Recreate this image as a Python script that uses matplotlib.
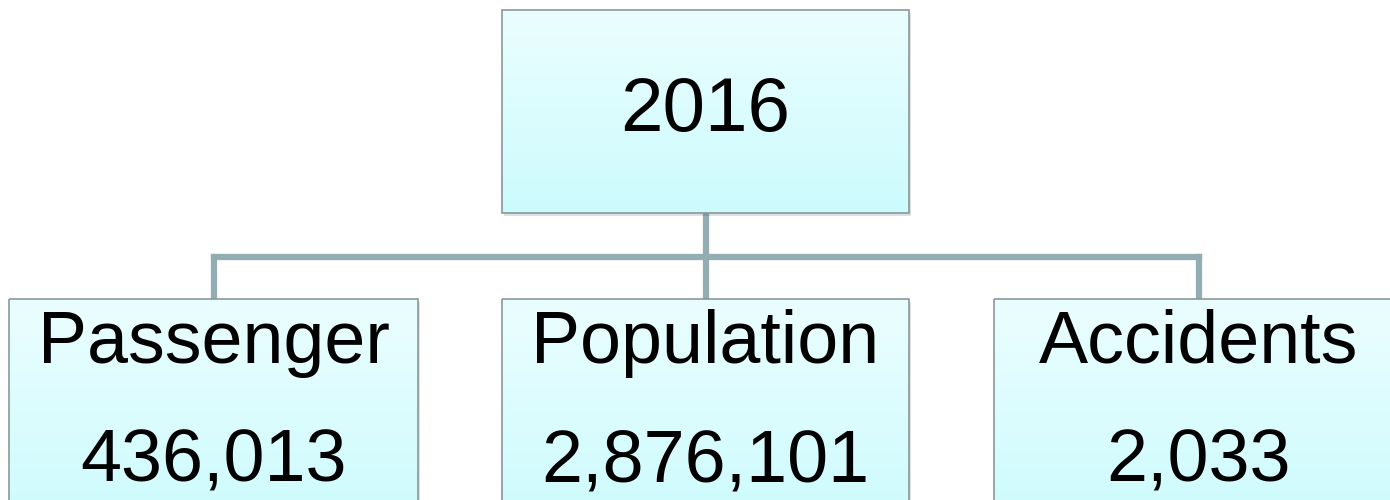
import numpy as np
import matplotlib
matplotlib.use("Agg")
import matplotlib.pyplot as plt
import matplotlib.patches as patches
from matplotlib.colors import LinearSegmentedColormap

# ──────────────────────────────────────────────
#  DATOS
# ──────────────────────────────────────────────
root_label = "2016"
child_names = ["Passenger", "Population", "Accidents"]
child_values = [436013, 2876101, 2033]

# ──────────────────────────────────────────────
#  ESTILO
# ──────────────────────────────────────────────
plt.rcParams["font.family"] = ["Liberation Sans", "DejaVu Sans"]
W, H = 1390, 500
LINE_COLOR = "#93AEB2"
EDGE_COLOR = "#8A9899"
grad = LinearSegmentedColormap.from_list("caja", ["#EBFEFF", "#CCFBFD"])


def caja(ax, x0, y0, w, h):
    # sombra
    ax.add_patch(patches.Rectangle((x0 + 2, y0 + 3), w, h, facecolor="#000000",
                                   alpha=0.12, edgecolor="none", zorder=1))
    img = np.linspace(0, 1, 256).reshape(-1, 1)
    im = ax.imshow(img, cmap=grad, extent=(x0, x0 + w, y0 + h, y0),
                   aspect="auto", zorder=2, interpolation="bilinear")
    rect = patches.Rectangle((x0, y0), w, h, facecolor="none",
                             edgecolor=EDGE_COLOR, linewidth=1.2, zorder=3)
    ax.add_patch(rect)
    im.set_clip_path(rect)


fig = plt.figure(figsize=(W / 100, H / 100), dpi=100)
ax = fig.add_axes([0, 0, 1, 1])
ax.set_xlim(0, W)
ax.set_ylim(H, 0)
ax.set_axis_off()

# caja raíz
root_x, root_y, root_w, root_h = 502, 10, 407, 203
caja(ax, root_x, root_y, root_w, root_h)
ax.text(root_x + root_w / 2, 112, root_label, ha="center", va="center",
        fontsize=55, color="black", zorder=4)

# hijos
child_x = [9, 502, 994]
child_w = [409, 407, 409]
child_y = 299
bus_y = 257
centers = [x + w / 2 for x, w in zip(child_x, child_w)]
mid = root_x + root_w / 2

ax.plot([mid, mid], [root_y + root_h, bus_y], color=LINE_COLOR, lw=4.5,
        zorder=0, solid_capstyle="butt")
ax.plot([centers[0], centers[-1]], [bus_y, bus_y], color=LINE_COLOR, lw=4.5,
        zorder=0, solid_joinstyle="miter")
for c in centers:
    ax.plot([c, c], [bus_y, child_y], color=LINE_COLOR, lw=4.5, zorder=0,
            solid_capstyle="projecting")

for name, val, x, w in zip(child_names, child_values, child_x, child_w):
    caja(ax, x, child_y, w, 230)
    ax.text(x + w / 2, 343, name, ha="center", va="center",
            fontsize=53, color="black", zorder=4)
    ax.text(x + w / 2, 462, f"{val:,}", ha="center", va="center",
            fontsize=53, color="black", zorder=4)

fig.savefig("out.png", dpi=100)
